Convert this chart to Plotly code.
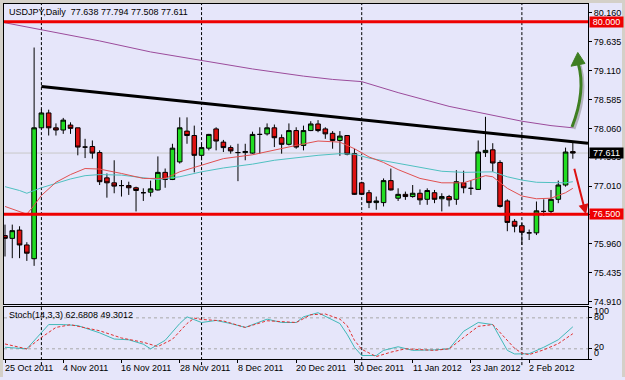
import plotly.graph_objects as go

# ---------------- data ----------------
dates = [
    "2011-10-25", "2011-10-26", "2011-10-27", "2011-10-28", "2011-10-31",
    "2011-11-01", "2011-11-02", "2011-11-03", "2011-11-04", "2011-11-07", "2011-11-08",
    "2011-11-09", "2011-11-10", "2011-11-11", "2011-11-14", "2011-11-15", "2011-11-16",
    "2011-11-17", "2011-11-18", "2011-11-21", "2011-11-22", "2011-11-23", "2011-11-24",
    "2011-11-25", "2011-11-28", "2011-11-29", "2011-11-30",
    "2011-12-01", "2011-12-02", "2011-12-05", "2011-12-06", "2011-12-07", "2011-12-08",
    "2011-12-09", "2011-12-12", "2011-12-13", "2011-12-14", "2011-12-15", "2011-12-16",
    "2011-12-19", "2011-12-20", "2011-12-21", "2011-12-22", "2011-12-23", "2011-12-26",
    "2011-12-27", "2011-12-28", "2011-12-29", "2011-12-30",
    "2012-01-02", "2012-01-03", "2012-01-04", "2012-01-05", "2012-01-06", "2012-01-09",
    "2012-01-10", "2012-01-11", "2012-01-12", "2012-01-13", "2012-01-16", "2012-01-17",
    "2012-01-18", "2012-01-19", "2012-01-20", "2012-01-23", "2012-01-24", "2012-01-25",
    "2012-01-26", "2012-01-27", "2012-01-30", "2012-01-31",
    "2012-02-01", "2012-02-02", "2012-02-03", "2012-02-06", "2012-02-07", "2012-02-08",
    "2012-02-09", "2012-02-10",
]
opens = [76.11, 76.06, 76.21, 75.94, 75.69, 78.07, 78.34, 78.07, 78.03, 78.12, 78.07,
         77.72, 77.73, 77.62, 77.16, 77.07, 77.02, 77.02, 76.98, 76.89, 76.90, 76.94,
         77.26, 77.13, 77.45, 78.01, 77.93, 77.57, 77.70, 78.05, 77.81, 77.71, 77.62,
         77.62, 77.61, 77.95, 77.96, 78.07, 77.89, 77.77, 78.02, 77.75, 78.02, 78.14,
         78.05, 77.97, 77.84, 77.93, 77.60, 77.07, 76.89, 76.71, 76.71, 77.11, 76.79,
         76.86, 76.82, 76.88, 76.77, 76.89, 76.78, 76.82, 76.77, 77.07, 76.97, 76.95,
         77.62, 77.67, 77.44, 76.74, 76.37, 76.29, 76.16, 76.16, 76.55, 76.55, 76.77,
         77.03, 77.638]
highs = [76.31, 76.31, 76.28, 75.99, 79.53, 78.41, 78.40, 78.15, 78.25, 78.17, 78.07,
         77.87, 77.84, 77.66, 77.24, 77.48, 77.12, 77.09, 77.00, 76.97, 77.11, 77.55,
         77.33, 77.78, 78.26, 78.26, 78.11, 77.78, 77.96, 78.08, 77.85, 77.75, 77.78,
         77.78, 78.00, 78.08, 78.15, 78.13, 77.95, 78.15, 78.08, 78.11, 78.19, 78.21,
         78.08, 78.01, 78.01, 77.93, 77.69, 77.09, 76.94, 76.82, 77.15, 77.33, 76.97,
         76.91, 77.03, 76.95, 76.97, 76.94, 76.88, 76.85, 77.30, 77.29, 77.11, 77.84,
         78.27, 77.79, 77.48, 76.77, 76.41, 76.34, 76.22, 76.73, 76.77, 76.94, 77.11,
         77.71, 77.794]
lows = [75.73, 75.70, 75.70, 75.65, 75.56, 78.07, 77.93, 77.93, 77.96, 77.96, 77.57,
        77.52, 77.51, 77.03, 76.80, 76.88, 76.82, 76.85, 76.55, 76.74, 76.82, 76.93,
        76.98, 77.12, 77.42, 77.78, 77.26, 77.48, 77.66, 77.66, 77.63, 77.60, 77.10,
        77.48, 77.60, 77.60, 77.93, 77.72, 77.60, 77.75, 77.69, 77.66, 78.01, 77.99,
        77.87, 77.69, 77.56, 77.57, 76.85, 76.85, 76.61, 76.58, 76.64, 76.93, 76.74,
        76.76, 76.80, 76.67, 76.67, 76.70, 76.55, 76.64, 76.67, 76.88, 76.85, 76.94,
        77.54, 77.27, 76.62, 76.19, 76.17, 75.94, 76.03, 76.12, 76.47, 76.52, 76.70,
        77.00, 77.508]
closes = [76.06, 76.20, 75.94, 75.79, 78.07, 78.34, 78.07, 78.03, 78.21, 78.06, 77.72,
          77.72, 77.61, 77.09, 77.07, 77.01, 77.02, 76.98, 76.93, 76.89, 76.96, 77.26,
          77.13, 77.70, 78.07, 77.93, 77.57, 77.71, 77.95, 77.83, 77.71, 77.65, 77.62,
          77.64, 77.95, 77.95, 78.07, 77.89, 77.77, 78.02, 77.72, 78.02, 78.14, 78.02,
          77.96, 77.84, 77.92, 77.59, 76.86, 76.86, 76.71, 76.74, 77.11, 76.94, 76.86,
          76.82, 76.88, 76.76, 76.93, 76.77, 76.82, 76.76, 77.09, 76.98, 76.97, 77.63,
          77.66, 77.43, 76.64, 76.35, 76.28, 76.17, 76.16, 76.56, 76.55, 76.77, 77.03,
          77.63, 77.611]

# moving averages (sampled at bar indices)
ma_slow_idx = [0, 5, 13, 20, 27, 34, 41, 45, 49, 54, 61, 67, 71, 75, 78]
ma_slow_val = [79.98, 79.85, 79.65, 79.45, 79.29, 79.14, 79.01, 78.95, 78.91, 78.71,
               78.46, 78.29, 78.19, 78.11, 78.07]
ma_fast_idx = [0, 2, 3, 4, 5, 7, 9, 11, 13, 16, 19, 22, 24, 27, 30, 34, 37, 40, 43, 46,
               48, 50, 52, 54, 57, 60, 63, 65, 66, 67, 69, 71, 73, 75, 77, 78]
ma_fast_val = [76.64, 76.55, 76.50, 76.66, 76.84, 77.08, 77.22, 77.33, 77.32, 77.24,
               77.15, 77.15, 77.27, 77.39, 77.51, 77.58, 77.67, 77.75, 77.83, 77.81,
               77.69, 77.54, 77.44, 77.31, 77.15, 77.07, 77.07, 77.15, 77.20, 77.18,
               76.97, 76.83, 76.78, 76.79, 76.89, 76.97]
ma_mid_idx = [0, 2, 3, 4, 5, 7, 9, 11, 13, 16, 19, 21, 24, 27, 30, 34, 37, 40, 43, 46,
              48, 50, 52, 54, 57, 60, 63, 65, 67, 69, 71, 73, 75, 77, 78]
ma_mid_val = [77.00, 76.93, 76.88, 76.93, 76.98, 77.06, 77.14, 77.20, 77.22, 77.21,
              77.16, 77.13, 77.18, 77.27, 77.34, 77.41, 77.48, 77.53, 77.57, 77.60,
              77.59, 77.52, 77.47, 77.43, 77.35, 77.28, 77.26, 77.26, 77.27, 77.18,
              77.12, 77.08, 77.07, 77.07, 77.09]

# stochastic (14,3,3)
stoch_k_idx = [0, 3, 6, 8, 10, 13, 15, 17, 19, 20, 22, 24, 25, 27, 29, 31, 33, 36, 38,
               40, 41, 43, 46, 47, 48, 49, 51, 52, 54, 56, 59, 61, 63, 65, 67, 68, 69,
               70, 72, 74, 76, 78]
stoch_k_val = [23, 20, 67, 67, 65, 51, 39, 37.5, 29, 20, 36.5, 69, 82, 71, 75, 69, 61.5,
               77.5, 71, 71, 82, 90, 69, 48, 23, 7, 7, 17, 24, 17, 18, 20, 54, 71, 67,
               42, 17, 10, 10.5, 23, 37.5, 62.68]
stoch_d_idx = [0, 3, 5, 7, 9, 13, 16, 19, 21, 23, 25, 26, 27, 30, 33, 36, 40, 42, 44,
               46, 47, 48, 49, 51, 53, 55, 59, 61, 63, 65, 67, 68, 70, 71, 72, 74, 76, 78]
stoch_d_val = [29.4, 19.8, 42, 61.5, 66.7, 55, 41, 32.7, 24.4, 38.5, 69, 79.4, 77, 74,
               61.5, 74.4, 71, 86, 87.5, 77.5, 65, 36.5, 19, 5, 13.5, 20, 17, 20, 42,
               63.5, 67, 52, 21, 11.5, 8.7, 18, 30, 49.30]
stoch_levels = [80, 20]
stoch_labels = [100, 80, 20, 0]

# price axis & levels
price_ticks = [80.160, 79.635, 79.110, 78.585, 78.060, 77.535, 77.010, 76.485,
               75.960, 75.435, 74.910]
levels = [80.000, 76.500]
last_price = 77.611
trend_x = [5, 80.08]
trend_y = [78.82, 77.79]

label_iso = ["2011-10-25", "2011-11-04", "2011-11-16", "2011-11-28", "2011-12-08",
             "2011-12-20", "2011-12-30", "2012-01-11", "2012-01-23", "2012-02-02"]
label_text = ["25 Oct 2011", "4 Nov 2011", "16 Nov 2011", "28 Nov 2011", "8 Dec 2011",
              "20 Dec 2011", "30 Dec 2011", "11 Jan 2012", "23 Jan 2012", "2 Feb 2012"]

title_text = "USDJPY,Daily  77.638 77.794 77.508 77.611"
stoch_text = "Stoch(14,3,3) 62.6808 49.3012"

# ---------------- figure ----------------
BG = "#E6E6FA"
xs = list(range(len(dates)))
label_idx = [dates.index(d) for d in label_iso]
month_starts = [i for i in range(1, len(dates)) if dates[i][5:7] != dates[i - 1][5:7]]

XDOM = [4 / 625, 588 / 625]
XR = [-0.137, 80.082]
FONT = "Liberation Sans, Arial, sans-serif"

fig = go.Figure()
fig.add_trace(go.Candlestick(
    x=xs, open=opens, high=highs, low=lows, close=closes,
    increasing=dict(line=dict(color="black", width=1), fillcolor="#22DD22"),
    decreasing=dict(line=dict(color="black", width=1), fillcolor="#DD1111"),
    whiskerwidth=0, xaxis="x", yaxis="y", hoverinfo="skip", showlegend=False))

fig.add_trace(go.Scatter(x=ma_slow_idx, y=ma_slow_val, mode="lines",
                         line=dict(color="#9B4B9B", width=1), xaxis="x", yaxis="y"))
fig.add_trace(go.Scatter(x=ma_mid_idx, y=ma_mid_val, mode="lines",
                         line=dict(color="#4FC0C0", width=1), xaxis="x", yaxis="y"))
fig.add_trace(go.Scatter(x=ma_fast_idx, y=ma_fast_val, mode="lines",
                         line=dict(color="#E05050", width=1), xaxis="x", yaxis="y"))

fig.add_trace(go.Scatter(x=stoch_k_idx, y=stoch_k_val, mode="lines",
                         line=dict(color="#40B8B8", width=1), xaxis="x2", yaxis="y2"))
fig.add_trace(go.Scatter(x=stoch_d_idx, y=stoch_d_val, mode="lines",
                         line=dict(color="#E03030", width=1, dash="3px,2px"),
                         xaxis="x2", yaxis="y2"))

shapes = []
# window border strips
shapes.append(dict(type="rect", xref="paper", yref="paper", x0=0, x1=1, y0=1 - 3 / 380, y1=1,
                   fillcolor="#D4D0C8", line=dict(width=0), layer="above"))
shapes.append(dict(type="rect", xref="paper", yref="paper", x0=0, x1=3 / 625, y0=0, y1=1,
                   fillcolor="#D4D0C8", line=dict(width=0), layer="above"))
shapes.append(dict(type="rect", xref="paper", yref="paper", x0=622 / 625, x1=1, y0=0, y1=1,
                   fillcolor="#D4D0C8", line=dict(width=0), layer="above"))
# month separators
for m in month_starts:
    shapes.append(dict(type="line", xref="x", yref="paper", x0=m, x1=m,
                       y0=1 - 368 / 380, y1=1 - 4 / 380,
                       line=dict(color="black", width=1, dash="3px,2px"), layer="below"))
# bid line
shapes.append(dict(type="line", xref="paper", yref="y", x0=XDOM[0], x1=XDOM[1],
                   y0=last_price, y1=last_price, line=dict(color="#C8C8C8", width=1),
                   layer="below"))
# stoch levels
for lv in stoch_levels:
    shapes.append(dict(type="line", xref="paper", yref="y2", x0=XDOM[0], x1=XDOM[1],
                       y0=lv, y1=lv, line=dict(color="#A8A8A8", width=1, dash="3px,3px"),
                       layer="below"))
# horizontal levels
for lv in levels:
    shapes.append(dict(type="line", xref="paper", yref="y", x0=XDOM[0], x1=XDOM[1],
                       y0=lv, y1=lv, line=dict(color="#EE0000", width=3)))
# trend line
shapes.append(dict(type="line", xref="x", yref="y", x0=trend_x[0], x1=trend_x[1],
                   y0=trend_y[0], y1=trend_y[1], line=dict(color="black", width=3)))
# green curved arrow (shadow + shaft + head)
shapes.append(dict(type="path", xref="x", yref="y",
                   path="M 78.15,78.05 Q 80.08,78.70 79.02,79.20",
                   line=dict(color="rgba(120,120,120,0.45)", width=3)))
shapes.append(dict(type="path", xref="x", yref="y",
                   path="M 77.88,78.085 Q 79.81,78.735 78.75,79.24",
                   line=dict(color="#3F7F22", width=3)))
shapes.append(dict(type="path", xref="x", yref="y",
                   path="M 78.68,79.44 L 77.75,79.19 L 79.67,79.24 Z",
                   fillcolor="#3F7F22", line=dict(color="#3F7F22", width=1)))

annotations = []
annotations.append(dict(xref="paper", yref="paper", x=7 / 625, y=1 - 12 / 380,
                        text=title_text, showarrow=False, xanchor="left", yanchor="middle",
                        font=dict(size=9, color="black")))
annotations.append(dict(xref="paper", yref="paper", x=7 / 625, y=1 - 318 / 380,
                        text=stoch_text, showarrow=False, xanchor="left", yanchor="middle",
                        font=dict(size=9, color="black")))
for i, t in zip(label_idx, label_text):
    annotations.append(dict(xref="x2", yref="paper", x=i, y=1 - 371 / 380, text=t,
                            showarrow=False, xanchor="left", yanchor="middle", xshift=-2,
                            font=dict(size=9, color="black")))
stoch_shift = {100: -3.5, 80: 1.2, 20: 1.7, 0: 6.5}
for v in stoch_labels:
    annotations.append(dict(xref="paper", yref="y2", x=592 / 625, y=v, text=str(v),
                            showarrow=False, xanchor="left", yanchor="middle",
                            yshift=stoch_shift[v], font=dict(size=9, color="black")))
for lv in levels:
    annotations.append(dict(xref="paper", yref="y", x=589 / 625, y=lv, text=f"{lv:.3f}",
                            showarrow=False, xanchor="left", yanchor="middle",
                            bgcolor="#EE0000", borderpad=0, width=33, align="center",
                            font=dict(size=9, color="white")))
annotations.append(dict(xref="paper", yref="y", x=589 / 625, y=last_price,
                        text=f"{last_price:.3f}", showarrow=False, xanchor="left",
                        yanchor="middle", bgcolor="black", borderpad=0, width=33,
                        align="center", font=dict(size=9, color="white")))
# red down arrow
annotations.append(dict(xref="x", yref="y", x=79.8, y=76.50, ax=-12, ay=-47,
                        showarrow=True, arrowhead=2, arrowsize=1, arrowwidth=2,
                        arrowcolor="#DD1111", text="", standoff=0))

fig.update_layout(
    width=625, height=380, margin=dict(l=0, r=0, t=0, b=0),
    paper_bgcolor=BG, plot_bgcolor=BG, showlegend=False,
    font=dict(family=FONT, size=9, color="black"),
    boxgap=0.1, boxgroupgap=0.3,
    xaxis=dict(domain=XDOM, range=XR, anchor="y", showline=True, mirror=True,
               linecolor="black", linewidth=1, showticklabels=False, ticks="",
               showgrid=False, zeroline=False, rangeslider=dict(visible=False),
               fixedrange=True),
    yaxis=dict(domain=[1 - 306 / 380, 1 - 4 / 380], range=[74.874, 80.322], side="right",
               anchor="x", showline=True, mirror=True, linecolor="black", linewidth=1,
               tickvals=price_ticks, ticktext=[f"{v:.3f}" for v in price_ticks],
               ticks="outside", ticklen=3, tickcolor="black", showgrid=False,
               zeroline=False, tickfont=dict(size=9, color="black")),
    xaxis2=dict(domain=XDOM, range=XR, anchor="y2", showline=True, mirror=True,
                linecolor="black", linewidth=1, tickvals=label_idx, ticks="outside",
                ticklen=3, tickcolor="black", showticklabels=False, showgrid=False,
                zeroline=False),
    yaxis2=dict(domain=[1 - 362 / 380, 1 - 309 / 380], range=[0, 101.9], side="right",
                anchor="x2", showline=True, mirror=True, linecolor="black", linewidth=1,
                tickvals=stoch_labels, ticks="outside", ticklen=3, tickcolor="black",
                showticklabels=False, showgrid=False, zeroline=False),
    shapes=shapes, annotations=annotations,
)

fig.write_html("out.html")
